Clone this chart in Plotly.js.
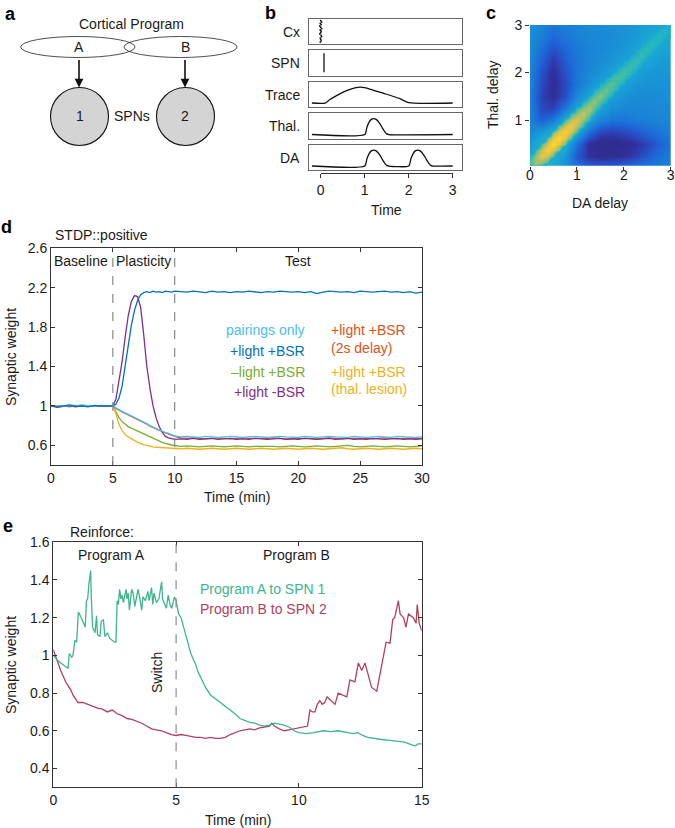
<!DOCTYPE html>
<html><head><meta charset="utf-8">
<script src="https://cdn.plot.ly/plotly-3.0.1.min.js"></script>
<style>html,body{margin:0;padding:0;background:#fff;}#chart{width:675px;height:828px;}</style>
</head><body><div id="chart"></div>
<script>
// ---------------- DATA ----------------
// Panel b (schematic time courses)
const bRowLabels = ['Cx','SPN','Trace','Thal.','DA'];
const bTicks = [0,1,2,3];
const bTickText = ['0','1','2','3'];
const cxT = [0.0,0.02,-0.01,0.01,-0.02,0.0,0.02,-0.01,0.01,0.0,-0.02,0.01,0.02,-0.01,0.0,0.01,-0.01];
const cxV = [1.22,1.13,1.05,0.97,0.88,0.80,0.71,0.63,0.55,0.46,0.38,0.29,0.21,0.12,0.04,-0.05,-0.13];
const spnT = [0.075,0.075];
const spnV = [-0.05,1.15];
const traceT = [-0.2,0.1,0.2,0.35,0.5,0.65,0.8,0.9,1.0,1.2,1.5,1.8,2.0,3.0];
const traceV = [0,0,0.2,0.45,0.67,0.84,0.97,1.0,0.96,0.8,0.55,0.27,0.02,0];
const thalT = [-0.2,1.0,1.05,1.1,1.15,1.2,1.25,1.3,1.35,1.4,1.45,1.5,1.55,3.0];
const thalV = [0,0,0.45,0.78,0.95,1.0,0.97,0.85,0.65,0.42,0.2,0.04,0,0];
const daT = [-0.2,1.0,1.05,1.1,1.15,1.2,1.25,1.3,1.35,1.4,1.45,1.5,1.55,2.0,2.05,2.1,2.15,2.2,2.25,2.3,2.35,2.4,2.45,2.5,2.55,3.0];
const daV = [0,0,0.45,0.78,0.95,1.0,0.97,0.85,0.65,0.42,0.2,0.04,0,0,0.45,0.78,0.95,1.0,0.97,0.85,0.65,0.42,0.2,0.04,0,0];

// Panel c (heatmap, DA delay x Thal. delay)
const cGrid = [0,0.25,0.5,0.75,1,1.25,1.5,1.75,2,2.25,2.5,2.75,3];
const cTicksX = [0,1,2,3];
const cTicksY = [1,2,3];
// broad field (rows: Thal. delay 0..3, cols: DA delay 0..3)
const cZ = [
 [0.40,0.45,0.40,0.32,0.24,0.20,0.19,0.20,0.22,0.24,0.26,0.27,0.28],
 [0.42,0.50,0.48,0.35,0.16,0.06,0.04,0.04,0.06,0.10,0.16,0.22,0.26],
 [0.36,0.48,0.55,0.45,0.22,0.05,0.02,0.02,0.03,0.06,0.11,0.18,0.24],
 [0.30,0.36,0.45,0.55,0.42,0.22,0.12,0.10,0.12,0.16,0.20,0.24,0.27],
 [0.27,0.18,0.25,0.42,0.50,0.40,0.28,0.24,0.24,0.26,0.27,0.28,0.29],
 [0.27,0.12,0.10,0.24,0.40,0.47,0.40,0.31,0.29,0.29,0.29,0.30,0.30],
 [0.27,0.10,0.05,0.13,0.30,0.40,0.45,0.39,0.33,0.31,0.31,0.31,0.32],
 [0.28,0.12,0.04,0.12,0.24,0.32,0.39,0.44,0.39,0.34,0.33,0.33,0.33],
 [0.28,0.14,0.05,0.14,0.24,0.29,0.33,0.39,0.43,0.39,0.35,0.34,0.35],
 [0.29,0.18,0.08,0.17,0.24,0.28,0.31,0.34,0.39,0.43,0.40,0.37,0.36],
 [0.30,0.22,0.14,0.20,0.25,0.28,0.30,0.32,0.35,0.40,0.43,0.41,0.39],
 [0.31,0.26,0.20,0.24,0.27,0.29,0.30,0.31,0.33,0.36,0.41,0.43,0.42],
 [0.32,0.28,0.24,0.27,0.28,0.30,0.31,0.32,0.33,0.35,0.38,0.42,0.44]
];
// narrow diagonal ridge on a finer grid (step 0.125)
const cFine = [0,0.125,0.25,0.375,0.5,0.625,0.75,0.875,1,1.125,1.25,1.375,1.5,1.625,1.75,1.875,2,2.125,2.25,2.375,2.5,2.625,2.75,2.875,3];
const ridgeCore = [0.55,0.74,0.88,0.95,0.99,0.99,0.95,0.9,0.85,0.8,0.76,0.72,0.69,0.66,0.63,0.61,0.59,0.57,0.55,0.54,0.53,0.52,0.51,0.50,0.50];
const ridgeNear = [0.58,0.70,0.79,0.84,0.86,0.85,0.81,0.76,0.71,0.67,0.63,0.60,0.58,0.56,0.54,0.53,0.51,0.50,0.49,0.48,0.47,0.46,0.45,0.44];
const ridgeFar = [0.50,0.57,0.62,0.64,0.64,0.62,0.59,0.56,0.53,0.50,0.48,0.47,0.46,0.45,0.44,0.43,0.42,0.41,0.40,0.40,0.39,0.39,0.38];

// Panel d (STDP::positive)
const dTime = [0,0.5,1,1.5,2,2.5,3,3.5,4,4.5,5,
 5.25,5.5,5.75,6,6.25,6.5,6.75,7,7.25,7.5,7.75,8,8.25,8.5,8.75,9,9.25,9.5,9.75,10,
 10.5,11,11.5,12,12.5,13,13.5,14,14.5,15,15.5,16,16.5,17,17.5,18,18.5,19,19.5,20,
 20.5,21,21.5,22,22.5,23,23.5,24,24.5,25,25.5,26,26.5,27,27.5,28,28.5,29,29.5,30];
const dBlue = [1.0,0.99,1.0,1.01,0.995,1.0,0.99,1.005,1.0,1.0,1.0,
 1.02,1.08,1.2,1.4,1.62,1.82,1.97,2.07,2.13,2.15,2.16,2.15,2.165,2.155,2.16,2.15,2.165,2.16,2.155,2.165,
 2.16,2.155,2.165,2.16,2.15,2.165,2.155,2.16,2.15,2.16,2.155,2.165,2.16,2.15,2.16,2.155,2.165,2.16,2.155,2.16,
 2.15,2.16,2.14,2.155,2.165,2.16,2.155,2.16,2.15,2.165,2.16,2.155,2.16,2.165,2.155,2.16,2.15,2.16,2.145,2.155];
const dPurple = [1.0,0.985,0.995,1.0,0.99,1.0,0.995,1.0,1.0,0.995,1.0,
 1.07,1.25,1.45,1.7,1.92,2.06,2.12,2.11,2.0,1.72,1.4,1.18,1.0,0.88,0.79,0.73,0.69,0.675,0.665,0.66,
 0.665,0.66,0.67,0.66,0.665,0.67,0.66,0.665,0.67,0.66,0.665,0.66,0.67,0.665,0.66,0.665,0.67,0.66,0.665,0.66,
 0.67,0.665,0.66,0.665,0.67,0.66,0.665,0.67,0.66,0.665,0.66,0.67,0.665,0.66,0.665,0.67,0.66,0.665,0.66,0.665];
const dLightBlue = [1.0,1.0,0.995,1.005,1.0,1.01,1.0,0.995,1.005,1.0,1.0,
 0.98,0.96,0.945,0.93,0.915,0.9,0.885,0.87,0.855,0.84,0.82,0.8,0.785,0.77,0.755,0.74,0.73,0.72,0.705,0.695,
 0.685,0.69,0.685,0.68,0.69,0.685,0.68,0.685,0.69,0.685,0.68,0.685,0.69,0.685,0.68,0.685,0.69,0.685,0.685,0.68,
 0.69,0.685,0.68,0.685,0.69,0.685,0.685,0.68,0.69,0.685,0.68,0.685,0.69,0.685,0.68,0.69,0.685,0.685,0.68,0.685];
const dRed = [1.0,0.995,1.0,1.0,1.005,0.995,1.0,1.0,0.995,1.0,1.0,
 0.975,0.955,0.94,0.925,0.91,0.895,0.88,0.865,0.85,0.835,0.815,0.795,0.78,0.765,0.75,0.735,0.725,0.715,0.7,0.69,
 0.675,0.67,0.675,0.67,0.665,0.67,0.675,0.67,0.665,0.67,0.675,0.67,0.67,0.665,0.67,0.675,0.67,0.665,0.67,0.67,
 0.675,0.67,0.665,0.67,0.675,0.67,0.665,0.67,0.67,0.675,0.67,0.665,0.67,0.675,0.67,0.665,0.67,0.67,0.665,0.67];
const dGreen = [1.0,0.995,1.0,0.99,1.0,1.0,0.995,1.0,1.0,0.995,1.0,
 0.94,0.88,0.84,0.81,0.79,0.775,0.76,0.745,0.73,0.715,0.7,0.685,0.67,0.655,0.64,0.63,0.62,0.61,0.603,0.598,
 0.59,0.595,0.59,0.585,0.59,0.595,0.59,0.585,0.59,0.595,0.59,0.585,0.59,0.59,0.595,0.59,0.585,0.59,0.595,0.59,
 0.585,0.59,0.595,0.59,0.585,0.59,0.595,0.6,0.59,0.585,0.59,0.595,0.59,0.585,0.59,0.595,0.59,0.585,0.59,0.595];
const dYellow = [1.0,1.0,0.995,1.0,1.0,0.995,1.0,1.0,1.0,0.995,1.0,
 0.92,0.81,0.75,0.71,0.685,0.665,0.645,0.63,0.62,0.605,0.6,0.59,0.585,0.58,0.578,0.575,0.572,0.57,0.57,0.568,
 0.565,0.57,0.565,0.56,0.565,0.57,0.565,0.56,0.565,0.57,0.565,0.56,0.565,0.57,0.565,0.56,0.565,0.57,0.565,0.56,
 0.565,0.57,0.565,0.56,0.565,0.57,0.575,0.565,0.56,0.565,0.57,0.565,0.56,0.565,0.57,0.565,0.56,0.565,0.57,0.565];
const dXTicks = [0,5,10,15,20,25,30];
const dXTickText = ['0','5','10','15','20','25','30'];
const dYTicks = [0.6,1,1.4,1.8,2.2,2.6];
const dYTickText = ['0.6','1','1.4','1.8','2.2','2.6'];
const dPhaseBounds = [5,10];
const dPhaseLabels = ['Baseline','Plasticity','Test'];
const dPhaseCenters = [2.45,7.5,20];
const dLegendLeft = ['pairings only','+light +BSR','\u2013light +BSR','+light -BSR'];
const dLegendRight = ['+light +BSR','(2s delay)','+light +BSR','(thal. lesion)'];

// Panel e (Reinforce)
const eTimeA = [0,0.2,0.4,0.6,0.65,0.75,0.8,0.88,0.95,1.02,1.1,1.2,1.3,1.35,1.4,1.45,1.52,1.55,1.6,1.7,1.76,1.8,1.9,1.95,2.04,2.1,2.2,2.3,2.4,2.5,2.55,2.6,2.65,2.7,2.75,2.8,2.85,2.96,3.0,3.05,3.1,3.19,3.25,3.32,3.45,3.5,3.6,3.65,3.75,3.85,3.9,4.0,4.05,4.1,4.2,4.3,4.41,4.45,4.5,4.6,4.68,4.75,4.82,4.93,5.0,5.05,5.1,5.2,5.3,5.4,5.5,5.6,5.7,5.8,5.9,6.0,6.2,6.4,6.6,6.8,7.0,7.2,7.4,7.6,7.8,8.0,8.2,8.4,8.6,8.8,9.0,9.2,9.4,9.6,9.8,10.0,10.3,10.6,11.0,11.3,11.6,12.0,12.2,12.4,12.6,12.8,13.0,13.3,13.6,14.0,14.3,14.6,14.75,14.85,15.0];
const eProgA = [1.0,0.97,0.95,0.93,1.01,0.99,1.0,1.08,1.07,1.23,1.21,1.18,1.15,1.29,1.3,1.38,1.45,1.3,1.15,1.12,1.21,1.11,1.1,1.18,1.19,1.1,1.12,1.09,1.08,1.07,1.07,1.29,1.27,1.35,1.3,1.32,1.28,1.35,1.3,1.33,1.24,1.35,1.33,1.26,1.35,1.32,1.24,1.31,1.29,1.34,1.29,1.36,1.27,1.33,1.28,1.3,1.39,1.3,1.28,1.25,1.32,1.27,1.25,1.31,1.29,1.26,1.22,1.2,1.15,1.11,1.06,1.01,0.98,0.95,0.91,0.88,0.83,0.79,0.77,0.75,0.73,0.71,0.69,0.665,0.655,0.645,0.64,0.63,0.625,0.63,0.64,0.635,0.63,0.62,0.6,0.59,0.585,0.59,0.6,0.595,0.6,0.59,0.585,0.59,0.575,0.565,0.56,0.555,0.55,0.545,0.54,0.525,0.52,0.53,0.53];
const eTimeB = [0,0.1,0.2,0.3,0.4,0.5,0.6,0.7,0.8,0.9,1.0,1.2,1.4,1.6,1.8,2.0,2.2,2.4,2.6,2.8,3.0,3.2,3.4,3.6,3.8,4.0,4.2,4.4,4.6,4.8,5.0,5.2,5.4,5.6,5.8,6.0,6.2,6.4,6.6,6.8,7.0,7.2,7.4,7.6,7.8,8.0,8.2,8.4,8.6,8.8,8.9,9.0,9.2,9.4,9.6,9.8,10.0,10.2,10.35,10.45,10.55,10.65,10.75,10.85,10.95,11.05,11.15,11.27,11.47,11.6,11.8,11.95,12.08,12.28,12.42,12.56,12.69,12.83,12.96,13.17,13.3,13.41,13.55,13.71,13.82,13.9,14.05,14.12,14.26,14.36,14.46,14.66,14.77,14.82,14.9,15.0];
const eProgB = [1.03,0.99,0.95,0.92,0.89,0.86,0.84,0.82,0.79,0.77,0.75,0.75,0.74,0.73,0.72,0.715,0.7,0.71,0.69,0.68,0.665,0.66,0.65,0.64,0.625,0.61,0.605,0.6,0.59,0.58,0.575,0.58,0.575,0.57,0.565,0.565,0.56,0.565,0.56,0.56,0.565,0.58,0.59,0.6,0.605,0.61,0.605,0.615,0.62,0.625,0.64,0.625,0.61,0.6,0.605,0.61,0.615,0.62,0.625,0.71,0.7,0.7,0.74,0.76,0.74,0.75,0.78,0.765,0.74,0.8,0.79,0.78,0.87,0.86,0.96,0.92,0.96,0.89,0.83,0.81,0.905,0.99,1.07,1.065,1.19,1.2,1.29,1.22,1.2,1.15,1.22,1.2,1.17,1.27,1.17,1.13];
const eXTicks = [0,5,10,15];
const eXTickText = ['0','5','10','15'];
const eYTicks = [0.4,0.6,0.8,1,1.2,1.4,1.6];
const eYTickText = ['0.4','0.6','0.8','1','1.2','1.4','1.6'];
const eSwitch = [5];
const eLegend = ['Program A to SPN 1','Program B to SPN 2'];

// ---------------- HELPERS ----------------
const W = 675, H = 828;
const X = px => px / W;
const Y = py => 1 - py / H;
const FONT = 'Liberation Sans, Arial, Helvetica, sans-serif';
const TXT = '#1a1a1a';

const traces = [];
const annotations = [];
const shapes = [];

function txt(text, px, py, o) {
  o = o || {};
  annotations.push(Object.assign({
    text: text, xref: 'paper', yref: 'paper', x: X(px), y: Y(py),
    showarrow: false, xanchor: 'center', yanchor: 'middle',
    font: {family: FONT, size: 14, color: TXT}
  }, o));
}

// ---------------- PANEL a ----------------
txt('<b>a</b>', 10, 14, {font: {family: FONT, size: 18, color: '#000'}});
txt('Cortical Program', 131, 24);
shapes.push({type: 'circle', xref: 'paper', yref: 'paper', x0: X(20.7), x1: X(135), y0: Y(57.5), y1: Y(36.5), line: {color: '#222', width: 0.8}, fillcolor: 'rgba(0,0,0,0)'});
shapes.push({type: 'circle', xref: 'paper', yref: 'paper', x0: X(124), x1: X(237), y0: Y(57.5), y1: Y(36.5), line: {color: '#222', width: 0.8}, fillcolor: 'rgba(0,0,0,0)'});
txt('A', 79, 47);
txt('B', 185, 47);
shapes.push({type: 'circle', xref: 'paper', yref: 'paper', x0: X(50.5), x1: X(108.5), y0: Y(145.5), y1: Y(87.5), line: {color: '#111', width: 1.1}, fillcolor: '#d4d4d4'});
shapes.push({type: 'circle', xref: 'paper', yref: 'paper', x0: X(156.5), x1: X(214.5), y0: Y(145.5), y1: Y(87.5), line: {color: '#111', width: 1.1}, fillcolor: '#d4d4d4'});
txt('1', 79.5, 116.5);
txt('2', 185.5, 116.5);
txt('SPNs', 132, 116);
[79, 185].forEach(px => {
  annotations.push({text: '', xref: 'paper', yref: 'paper', x: X(px), y: Y(87.5), ax: 0, ay: -29,
    showarrow: true, arrowhead: 2, arrowsize: 1.1, arrowwidth: 1.6, arrowcolor: '#111'});
});

// ---------------- PANEL b ----------------
txt('<b>b</b>', 270, 13, {font: {family: FONT, size: 18, color: '#000'}});
const layoutAxes = {};
const bTop0 = 18.5, bStep = 31.5, bH = 25.5;
const bSeries = [
  {x: cxT, y: cxV, mode: 'markers', marker: {size: 1.8, color: '#111'}},
  {x: spnT, y: spnV, mode: 'lines', line: {color: '#111', width: 1.3}},
  {x: traceT, y: traceV, mode: 'lines', line: {color: '#111', width: 1.3, shape: 'spline', smoothing: 0.6}},
  {x: thalT, y: thalV, mode: 'lines', line: {color: '#111', width: 1.3, shape: 'spline', smoothing: 0.6}},
  {x: daT, y: daV, mode: 'lines', line: {color: '#111', width: 1.3, shape: 'spline', smoothing: 0.6}}
];
bRowLabels.forEach((lab, i) => {
  const n = 4 + i;
  const top = bTop0 + i * bStep, bot = top + bH;
  layoutAxes['xaxis' + n] = {domain: [X(308.7), X(462.3)], range: [-0.273, 3.218], anchor: 'y' + n,
    showline: true, mirror: true, linecolor: '#666', linewidth: 1, ticks: '', showticklabels: false,
    showgrid: false, zeroline: false, fixedrange: true};
  layoutAxes['yaxis' + n] = {domain: [Y(bot), Y(top)], range: [-0.25, 1.35], anchor: 'x' + n,
    showline: true, mirror: true, linecolor: '#666', linewidth: 1, ticks: '', showticklabels: false,
    showgrid: false, zeroline: false, fixedrange: true};
  traces.push(Object.assign({type: 'scatter', xaxis: 'x' + n, yaxis: 'y' + n, hoverinfo: 'skip', showlegend: false}, bSeries[i]));
  txt(lab, 302, top + bH / 2 + 0.5, {xanchor: 'right'});
});
layoutAxes.xaxis9 = {domain: [X(320.7), X(452.7)], range: [0, 3], anchor: 'y9', showline: true, linecolor: '#333',
  linewidth: 1, ticks: 'outside', ticklen: 4, tickcolor: '#333', tickvals: bTicks, ticktext: bTickText,
  showgrid: false, zeroline: false, fixedrange: true, tickfont: {size: 14}};
layoutAxes.yaxis9 = {domain: [Y(172.7), Y(170)], range: [0, 1], anchor: 'x9', visible: false, fixedrange: true};
traces.push({type: 'scatter', x: [], y: [], xaxis: 'x9', yaxis: 'y9', hoverinfo: 'skip', showlegend: false});
txt('Time', 386.7, 209.5);

// ---------------- PANEL c ----------------
txt('<b>c</b>', 491, 13, {font: {family: FONT, size: 18, color: '#000'}});
const parula = [[0, '#2e2a8a'], [0.06, '#30309a'], [0.12, '#2a48bf'], [0.2, '#1d68d8'], [0.28, '#1a84d6'],
  [0.38, '#19a0d6'], [0.48, '#20b3c6'], [0.58, '#45bca2'], [0.68, '#86c07c'], [0.78, '#c4c05e'],
  [0.88, '#eec63c'], [1, '#f9e01e']];
const ridgeScale = [[0, 'rgba(25,160,214,0)'], [0.379, 'rgba(25,160,214,0)']].concat(parula.filter(s => s[0] >= 0.38));
traces.push({type: 'heatmap', x: cGrid, y: cGrid, z: cZ, xaxis: 'x3', yaxis: 'y3', zmin: 0, zmax: 1,
  zsmooth: 'best', showscale: false, hoverinfo: 'skip', colorscale: parula});
// banded table built from the three ridge arrays (diagonal, +/-1 and +/-2 cells)
const ridgeZ = cFine.map((_, i) => cFine.map((__, j) => {
  const k = j - i;
  if (k === 0) return ridgeCore[i];
  if (k === 1) return ridgeNear[i];
  if (k === -1) return ridgeNear[j];
  if (k === 2) return ridgeFar[i];
  if (k === -2) return ridgeFar[j];
  return 0;
}));
traces.push({type: 'heatmap', x: cFine, y: cFine, z: ridgeZ, xaxis: 'x3', yaxis: 'y3', zmin: 0, zmax: 1,
  zsmooth: 'best', showscale: false, hoverinfo: 'skip', colorscale: ridgeScale});
layoutAxes.xaxis3 = {domain: [X(530), X(670.7)], range: [0, 3], anchor: 'y3', showline: false,
  ticks: 'outside', ticklen: 3, tickcolor: '#333', tickvals: cTicksX, ticktext: cTicksX.map(String),
  showgrid: false, zeroline: false, fixedrange: true, tickfont: {size: 14}, ticklabelstandoff: -7};
layoutAxes.yaxis3 = {domain: [Y(165.7), Y(25)], range: [0.04, 3], anchor: 'x3', showline: false,
  ticks: 'outside', ticklen: 4, tickcolor: '#333', tickvals: cTicksY, ticktext: cTicksY.map(String),
  showgrid: false, zeroline: false, fixedrange: true, tickfont: {size: 14}};
txt('DA delay', 600, 203.5);
txt('Thal. delay', 493, 95, {textangle: -90});

// ---------------- PANEL d ----------------
txt('<b>d</b>', 6, 227, {font: {family: FONT, size: 18, color: '#000'}});
txt('STDP::positive', 53, 235, {xanchor: 'left'});
const dSeries = [
  {y: dRed, color: '#D95319'},
  {y: dGreen, color: '#77AC30'},
  {y: dYellow, color: '#EDB120'},
  {y: dPurple, color: '#7E2F8E'},
  {y: dLightBlue, color: '#4DBEEE'},
  {y: dBlue, color: '#0072BD'}
];
dSeries.forEach(s => traces.push({type: 'scatter', mode: 'lines', x: dTime, y: s.y, xaxis: 'x', yaxis: 'y',
  line: {color: s.color, width: 1.3}, hoverinfo: 'skip', showlegend: false}));
layoutAxes.xaxis = {domain: [X(51), X(422)], range: [0, 30], anchor: 'y', showline: true, mirror: 'ticks',
  linecolor: '#333', linewidth: 1, ticks: 'inside', ticklen: 4, tickcolor: '#333', tickvals: dXTicks,
  ticktext: dXTickText, showgrid: false, zeroline: false, fixedrange: true, tickfont: {size: 14}};
layoutAxes.yaxis = {domain: [Y(465), Y(248.3)], range: [0.4, 2.6], anchor: 'x', showline: true, mirror: 'ticks',
  linecolor: '#333', linewidth: 1, ticks: 'inside', ticklen: 4, tickcolor: '#333', tickvals: dYTicks,
  ticktext: dYTickText, showgrid: false, zeroline: false, fixedrange: true, tickfont: {size: 14}};
dPhaseBounds.forEach(b => shapes.push({type: 'line', xref: 'x', yref: 'y domain', x0: b, x1: b, y0: 0, y1: 1,
  line: {color: '#8a8a8a', width: 1.2, dash: 'dash'}}));
dPhaseLabels.forEach((lab, i) => annotations.push({text: lab, xref: 'x', yref: 'paper', x: dPhaseCenters[i],
  y: Y(261.5), showarrow: false, xanchor: 'center', yanchor: 'middle', font: {family: FONT, size: 14, color: TXT}}));
const dLeftColors = ['#4DBEEE', '#0072BD', '#77AC30', '#7E2F8E'];
const dLeftRows = [330, 350.5, 371.5, 391.5];
dLegendLeft.forEach((lab, i) => txt(lab, 307, dLeftRows[i], {xanchor: 'right', font: {family: FONT, size: 14, color: dLeftColors[i]}}));
const dRightColors = ['#D95319', '#D95319', '#EDB120', '#EDB120'];
const dRightRows = [329.5, 347.5, 371.5, 388.5];
dLegendRight.forEach((lab, i) => txt(lab, 328.5, dRightRows[i], {xanchor: 'left', font: {family: FONT, size: 14, color: dRightColors[i]}}));
txt('Synaptic weight', 11, 357, {textangle: -90});
txt('Time (min)', 236.5, 497);

// ---------------- PANEL e ----------------
txt('<b>e</b>', 8, 526, {font: {family: FONT, size: 18, color: '#000'}});
txt('Reinforce:', 68, 531.5, {xanchor: 'left'});
traces.push({type: 'scatter', mode: 'lines', x: eTimeB, y: eProgB, xaxis: 'x2', yaxis: 'y2',
  line: {color: '#b0405f', width: 1.3}, hoverinfo: 'skip', showlegend: false});
traces.push({type: 'scatter', mode: 'lines', x: eTimeA, y: eProgA, xaxis: 'x2', yaxis: 'y2',
  line: {color: '#3db58e', width: 1.3}, hoverinfo: 'skip', showlegend: false});
layoutAxes.xaxis2 = {domain: [X(53.3), X(421.7)], range: [0, 15], anchor: 'y2', showline: true, mirror: 'ticks',
  linecolor: '#333', linewidth: 1, ticks: 'inside', ticklen: 4, tickcolor: '#333', tickvals: eXTicks,
  ticktext: eXTickText, showgrid: false, zeroline: false, fixedrange: true, tickfont: {size: 14}};
layoutAxes.yaxis2 = {domain: [Y(787.3), Y(542.3)], range: [0.3, 1.6], anchor: 'x2', showline: true, mirror: 'ticks',
  linecolor: '#333', linewidth: 1, ticks: 'inside', ticklen: 4, tickcolor: '#333', tickvals: eYTicks,
  ticktext: eYTickText, showgrid: false, zeroline: false, fixedrange: true, tickfont: {size: 14}};
eSwitch.forEach(b => shapes.push({type: 'line', xref: 'x2', yref: 'y2 domain', x0: b, x1: b, y0: 0, y1: 1,
  line: {color: '#8a8a8a', width: 1.2, dash: 'dash'}}));
annotations.push({text: 'Program A', xref: 'x2', yref: 'paper', x: 2.38, y: Y(555), showarrow: false,
  xanchor: 'center', yanchor: 'middle', font: {family: FONT, size: 14, color: TXT}});
annotations.push({text: 'Program B', xref: 'x2', yref: 'paper', x: 9.9, y: Y(555), showarrow: false,
  xanchor: 'center', yanchor: 'middle', font: {family: FONT, size: 14, color: TXT}});
txt('Switch', 157, 673, {textangle: -90});
txt(eLegend[0], 198, 589, {xanchor: 'left', font: {family: FONT, size: 14, color: '#3db58e'}});
txt(eLegend[1], 198, 609, {xanchor: 'left', font: {family: FONT, size: 14, color: '#b0405f'}});
txt('Synaptic weight', 11, 665, {textangle: -90});
txt('Time (min)', 237.5, 819.5);

// ---------------- LAYOUT ----------------
const layout = Object.assign({
  width: W, height: H, margin: {l: 0, r: 0, t: 0, b: 0},
  paper_bgcolor: '#ffffff', plot_bgcolor: 'rgba(0,0,0,0)',
  font: {family: FONT, size: 14, color: TXT},
  showlegend: false, annotations: annotations, shapes: shapes
}, layoutAxes);

Plotly.newPlot('chart', traces, layout, {staticPlot: true, displayModeBar: false});
</script></body></html>
